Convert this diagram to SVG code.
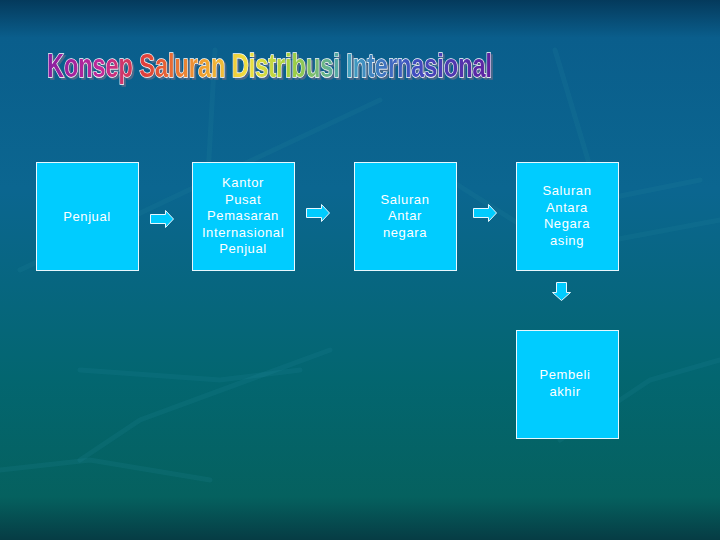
<svg xmlns="http://www.w3.org/2000/svg" width="720" height="540" viewBox="0 0 720 540">
<defs>
<linearGradient id="bg" x1="0" y1="0" x2="0" y2="1">
<stop offset="0" stop-color="#043a5c"/>
<stop offset="0.07" stop-color="#0a5e8c"/>
<stop offset="0.35" stop-color="#0b6690"/>
<stop offset="0.7" stop-color="#036670"/>
<stop offset="0.92" stop-color="#05615f"/>
<stop offset="1" stop-color="#063c44"/>
</linearGradient>
<linearGradient id="rainbow" x1="47" y1="0" x2="492" y2="0" gradientUnits="userSpaceOnUse">
<stop offset="0" stop-color="#8a1fa0"/>
<stop offset="0.12" stop-color="#c02a9a"/>
<stop offset="0.22" stop-color="#e0403a"/>
<stop offset="0.34" stop-color="#f09a30"/>
<stop offset="0.45" stop-color="#f0e040"/>
<stop offset="0.55" stop-color="#a0d040"/>
<stop offset="0.68" stop-color="#40a0c0"/>
<stop offset="0.82" stop-color="#4050c0"/>
<stop offset="1" stop-color="#6020a0"/>
</linearGradient>
<filter id="shadow" x="-5%" y="-30%" width="110%" height="160%">
<feDropShadow dx="2" dy="2" stdDeviation="0.6" flood-color="#5a6a8a" flood-opacity="0.8"/>
</filter>
<style>
.box{fill:#00ccff;stroke:#e8f8ff;stroke-width:1}
.lbl{font-family:"Liberation Sans",Arial,sans-serif;font-size:13px;letter-spacing:0.6px;fill:#ffffff;text-anchor:middle}
.arr{fill:#00ccff;stroke:#e8f8ff;stroke-width:1}
.leaf{fill:none;stroke:#2a8aa0;stroke-opacity:0.15;stroke-width:5;stroke-linecap:round}
</style>
</defs>
<rect width="720" height="540" fill="url(#bg)"/>
<g id="background-leaves">
<path class="leaf" d="M215 50 L205 230"/>
<path class="leaf" d="M20 270 L210 180 L380 100"/>
<path class="leaf" d="M555 50 L600 200 L700 180"/>
<path class="leaf" d="M450 180 L560 250 L720 220"/>
<path class="leaf" d="M0 470 L90 460 L210 480"/>
<path class="leaf" d="M80 460 L140 420 L330 350"/>
<path class="leaf" d="M300 700 L420 600 L520 560"/>
<path class="leaf" d="M560 440 L650 380 L720 360"/>
<path class="leaf" d="M80 370 L220 380 L300 370"/>
</g>
<g id="title" filter="url(#shadow)">
<text x="47" y="77" textLength="445" lengthAdjust="spacingAndGlyphs" font-family="Liberation Sans Narrow, Liberation Sans, sans-serif" font-weight="bold" font-size="33" fill="url(#rainbow)" stroke="#ffffff" stroke-width="1.4" paint-order="stroke">Konsep Saluran Distribusi Internasional</text>
</g>
<g id="connectors">
<path class="arr" d="M150.5 214.5 H165.5 V210.5 L173.5 219 L165.5 227.5 V223.5 H150.5 Z"/>
<path class="arr" d="M306.5 208.5 H321.5 V204.5 L329.5 213 L321.5 221.5 V217.5 H306.5 Z"/>
<path class="arr" d="M473.5 208.5 H488.5 V204.5 L496.5 213 L488.5 221.5 V217.5 H473.5 Z"/>
<path class="arr" d="M556.5 282.5 H566.5 V292.5 H570.5 L561.5 300.5 L552.5 292.5 H556.5 Z"/>
</g>
<g id="node-penjual">
<rect class="box" x="36.5" y="162.5" width="102" height="108"/>
<text class="lbl" x="87" y="221">Penjual</text>
</g>
<g id="node-kantor">
<rect class="box" x="192.5" y="162.5" width="102" height="108"/>
<text class="lbl" x="243" y="187">Kantor</text>
<text class="lbl" x="243" y="204">Pusat</text>
<text class="lbl" x="243" y="220">Pemasaran</text>
<text class="lbl" x="243" y="237">Internasional</text>
<text class="lbl" x="243" y="253">Penjual</text>
</g>
<g id="node-antarnegara">
<rect class="box" x="354.5" y="162.5" width="102" height="108"/>
<text class="lbl" x="405" y="204">Saluran</text>
<text class="lbl" x="405" y="220">Antar</text>
<text class="lbl" x="405" y="237">negara</text>
</g>
<g id="node-asing">
<rect class="box" x="516.5" y="162.5" width="102" height="108"/>
<text class="lbl" x="567" y="195">Saluran</text>
<text class="lbl" x="567" y="212">Antara</text>
<text class="lbl" x="567" y="228">Negara</text>
<text class="lbl" x="567" y="245">asing</text>
</g>
<g id="node-pembeli">
<rect class="box" x="516.5" y="330.5" width="102" height="108"/>
<text class="lbl" x="565" y="379">Pembeli</text>
<text class="lbl" x="565" y="396">akhir</text>
</g>
</svg>
